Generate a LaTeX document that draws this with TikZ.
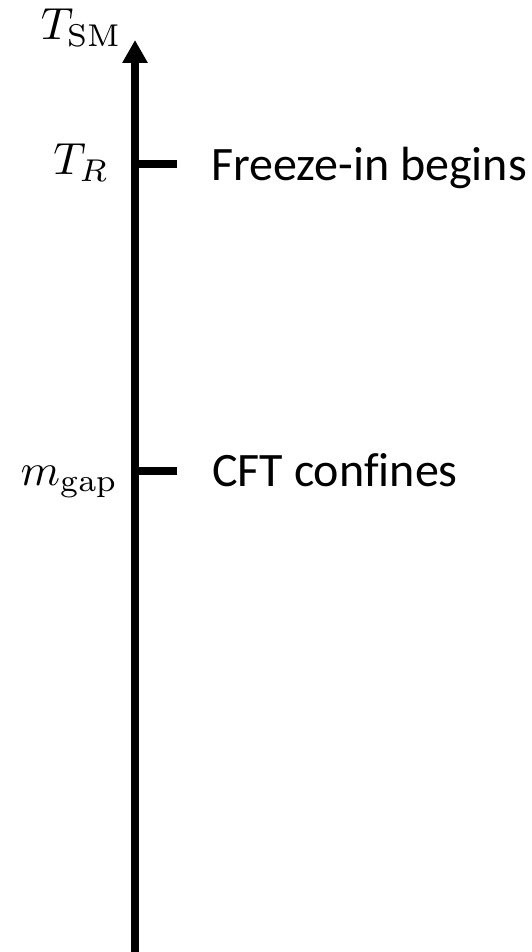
\documentclass[tikz,border=0pt]{standalone}
\usepackage[no-math]{fontspec}
\setmainfont{Carlito}[Ligatures=NoCommon]
\usetikzlibrary{arrows.meta}
\tikzset{
  axisline/.style={line width=8pt,-{Triangle[width=24pt,length=23pt]}},
  tickline/.style={line width=8pt},
  lbl/.style={inner sep=0pt,font=\fontsize{48}{56}\selectfont},
  mlbl/.style={inner sep=0pt,font=\fontsize{10}{12}\selectfont,scale=4.5,transform shape}
}
\begin{document}
\begin{tikzpicture}[x=1pt,y=-1pt]
\useasboundingbox (0,0) rectangle (531,952);
\coordinate (bot) at (135,956);
\coordinate (top) at (135,40);
\coordinate (a1) at (135,164);
\coordinate (b1) at (177,164);
\coordinate (a2) at (135,471);
\coordinate (b2) at (177,471);
\draw[axisline] (bot) -- (top);
\draw[tickline] (a1) -- (b1);
\draw[tickline] (a2) -- (b2);
\node[mlbl,anchor=base west] (tsm) at (40,40) {$T_{\mathrm{SM}}$};
\node[mlbl,anchor=base east] (tr) at (110,175) {$T_R$};
\node[mlbl,anchor=base east] (mg) at (119,485) {$m_{\mathrm{gap}}$};
\node[lbl,anchor=base west] (fz) at (211,180) {Freeze-in begins};
\node[lbl,anchor=base west] (cft) at (212,486) {CFT confines};
\end{tikzpicture}
\end{document}
